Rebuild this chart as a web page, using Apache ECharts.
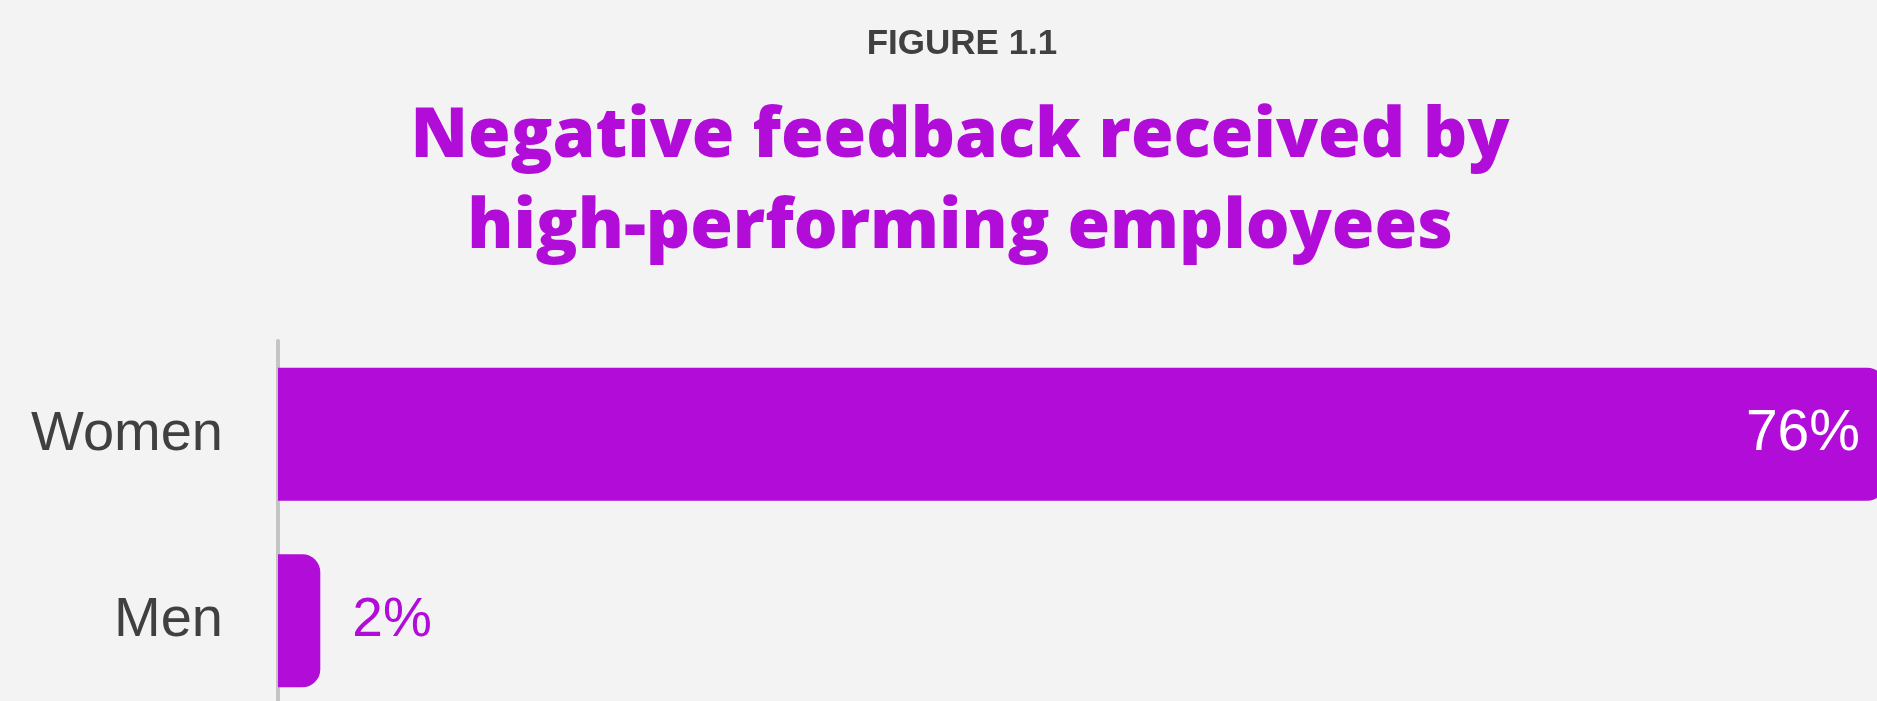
<!DOCTYPE html>
<html>
<head>
<meta charset="utf-8">
<script src="https://cdn.jsdelivr.net/npm/echarts@6/dist/echarts.min.js"></script>
<style>
  html, body { margin: 0; padding: 0; background: #f3f3f3; }
  #chart { width: 1877px; height: 701px; }
</style>
</head>
<body>
<div id="chart"></div>
<script>
// Share of high performers who received negative feedback, by gender
const categories = ['Women', 'Men'];
const values = [76, 2];
const figureLabel = 'FIGURE 1.1';
const titleLines = ['Negative feedback received by', 'high-performing employees'];

const PURPLE = '#b20cd9';
const INK = '#404040';
const SANS = '"Liberation Sans", Arial, sans-serif';

const chart = echarts.init(document.getElementById('chart'), null, { renderer: 'canvas' });

const option = {
  backgroundColor: '#f3f3f3',
  animation: false,
  graphic: [
    {
      type: 'text', x: 962, y: 44,
      style: { text: figureLabel, fill: INK, font: 'bold 35px ' + SANS,
               align: 'center', verticalAlign: 'middle' }
    },
    {
      type: 'text', x: 960, y: 137,
      style: { text: titleLines[0], fill: PURPLE, font: '800 69px "Open Sans", sans-serif',
               align: 'center', verticalAlign: 'middle' }
    },
    {
      type: 'text', x: 960, y: 228,
      style: { text: titleLines[1], fill: PURPLE, font: '800 69px "Open Sans", sans-serif',
               align: 'center', verticalAlign: 'middle' }
    }
  ],
  // plot area runs past the right and bottom edges so the long bar's end is clipped
  grid: { left: 278, width: 1607, top: 341, height: 373, containLabel: false, outerBoundsMode: 'none' },
  xAxis: {
    type: 'value', min: 0, max: 76,
    show: false
  },
  yAxis: {
    type: 'category', data: categories, inverse: true, offset: 2,
    axisLine: { show: true, lineStyle: { color: '#c4c4c4', width: 4 } },
    axisTick: { show: false },
    axisLabel: { margin: 53, color: INK, fontSize: 56, fontFamily: SANS }
  },
  series: [{
    type: 'bar',
    barWidth: 133,
    itemStyle: { color: PURPLE, borderRadius: [0, 18, 18, 0] },
    data: values.map((v, i) => ({
      value: v,
      label: i === 0
        ? { show: true, position: 'insideRight', distance: 25, color: '#ffffff', fontSize: 57,
            fontFamily: SANS, formatter: '{c}%' }
        : { show: true, position: 'right', distance: 32, color: PURPLE, fontSize: 55,
            fontFamily: SANS, formatter: '{c}%' }
    }))
  }]
};

chart.setOption(option);
</script>
</body>
</html>
